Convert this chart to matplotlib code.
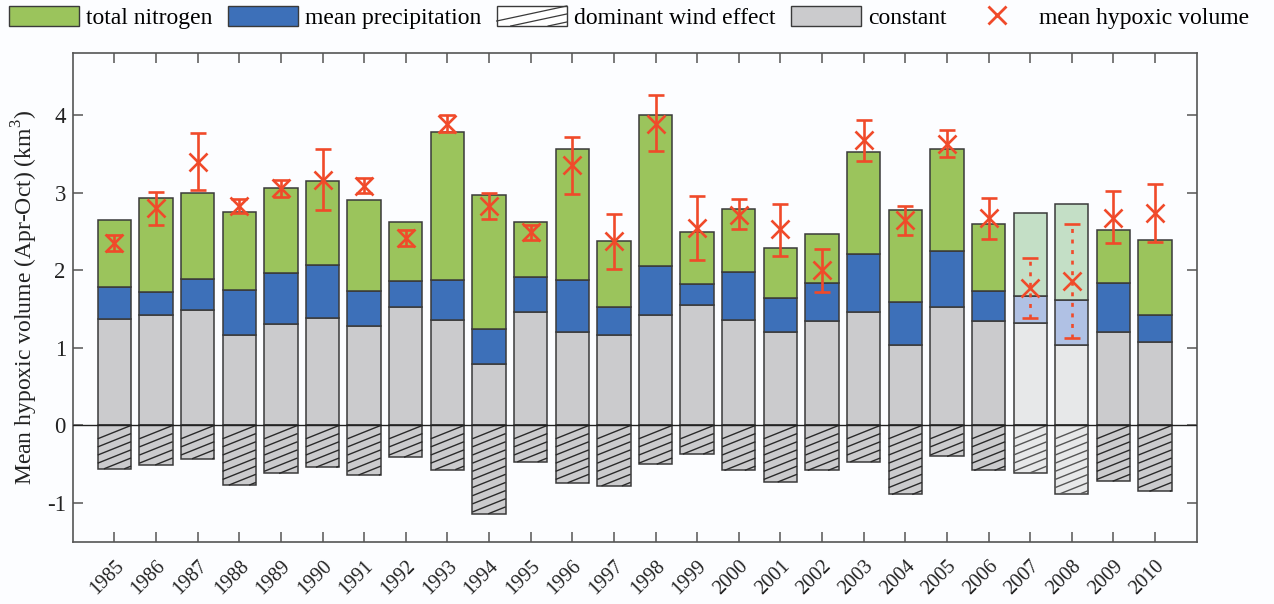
import matplotlib
matplotlib.use("Agg")
import matplotlib.pyplot as plt
from matplotlib.patches import Patch, Rectangle
from matplotlib.lines import Line2D
from matplotlib.collections import LineCollection
from matplotlib.legend_handler import HandlerBase

years = list(range(1985, 2011))
# stacked contributions (km^3)
constant = [1.37, 1.43, 1.49, 1.16, 1.31, 1.39, 1.28, 1.53, 1.36, 0.79, 1.46, 1.20, 1.16,
            1.43, 1.55, 1.36, 1.21, 1.35, 1.46, 1.04, 1.53, 1.35, 1.32, 1.04, 1.20, 1.07]
precip = [0.41, 0.29, 0.40, 0.59, 0.66, 0.68, 0.45, 0.33, 0.51, 0.45, 0.45, 0.67, 0.37,
          0.63, 0.27, 0.62, 0.43, 0.49, 0.75, 0.55, 0.72, 0.39, 0.35, 0.58, 0.64, 0.35]
nitrogen = [0.87, 1.21, 1.11, 1.00, 1.09, 1.08, 1.18, 0.77, 1.91, 1.73, 0.71, 1.69, 0.85,
            1.94, 0.67, 0.81, 0.65, 0.63, 1.32, 1.19, 1.31, 0.86, 1.07, 1.23, 0.68, 0.97]
wind = [-0.56, -0.51, -0.43, -0.77, -0.62, -0.54, -0.64, -0.41, -0.57, -1.14, -0.47, -0.74, -0.78,
        -0.50, -0.37, -0.58, -0.73, -0.58, -0.47, -0.89, -0.40, -0.58, -0.61, -0.88, -0.72, -0.85]
# observed mean hypoxic volume with range
hyp_mean = [2.35, 2.80, 3.40, 2.83, 3.06, 3.17, 3.09, 2.42, 3.89, 2.83, 2.49, 3.36, 2.38,
            3.89, 2.55, 2.72, 2.53, 2.00, 3.68, 2.65, 3.63, 2.67, 1.77, 1.86, 2.68, 2.74]
hyp_low = [2.25, 2.59, 3.04, 2.74, 2.95, 2.78, 3.00, 2.32, 3.79, 2.66, 2.39, 2.99, 2.02,
           3.54, 2.13, 2.53, 2.18, 1.72, 3.41, 2.45, 3.46, 2.40, 1.38, 1.13, 2.35, 2.36]
hyp_high = [2.45, 3.01, 3.77, 2.92, 3.17, 3.56, 3.19, 2.52, 4.00, 3.00, 2.58, 3.72, 2.73,
            4.26, 2.96, 2.92, 2.86, 2.28, 3.94, 2.83, 3.81, 2.93, 2.16, 2.60, 3.02, 3.11]
pale_years = [2007, 2008]

GREEN, BLUE, GRAY = "#9bc45c", "#3d70b9", "#cbcbcd"
GREEN_P, BLUE_P, GRAY_P = "#c4dfc6", "#b0c1e4", "#e7e8e9"
RED = "#f04a2a"
EDGE = "#3a3a3a"

plt.rcParams["font.family"] = ["Liberation Serif", "DejaVu Serif"]
plt.rcParams["mathtext.fontset"] = "custom"
plt.rcParams["mathtext.rm"] = "Liberation Serif"

W = 0.8
K = 0.215   # slope of the wind hatch lines (data units)
STEP = 0.105


def hatch_segments(xl, xr, ybot, ytop, k, step):
    segs = []
    c = ytop
    while c > ybot - k * (xr - xl):
        xa = max(xl, xr + (ybot - c) / k)
        xb = min(xr, xr + (ytop - c) / k)
        if xb > xa:
            segs.append([(xa, c + k * (xa - xr)), (xb, c + k * (xb - xr))])
        c -= step
    return segs


class WindHandle:
    pass


class HandlerWind(HandlerBase):
    def create_artists(self, legend, orig_handle, xdescent, ydescent, width, height, fontsize, trans):
        x0, y0 = -xdescent, -ydescent
        rect = Rectangle((x0, y0), width, height, facecolor="white", edgecolor=EDGE, lw=1.0, transform=trans)
        k = 0.75 * height / width
        arts = [rect]
        for s in hatch_segments(x0, x0 + width, y0, y0 + height, k, 0.4 * height):
            arts.append(Line2D([s[0][0], s[1][0]], [s[0][1], s[1][1]], color=EDGE, lw=0.9, transform=trans))
        return arts


fig = plt.figure(figsize=(12.74, 6.04), dpi=100, facecolor="#fcfdff")
ax = fig.add_axes([0.0571, 0.1031, 0.8822, 0.8087])
ax.set_facecolor("#fcfdff")

pale = [y in pale_years for y in years]
c_const = [GRAY_P if p else GRAY for p in pale]
c_prec = [BLUE_P if p else BLUE for p in pale]
c_nit = [GREEN_P if p else GREEN for p in pale]
bot_prec = constant
bot_nit = [a + b for a, b in zip(constant, precip)]

ax.bar(years, constant, W, color=c_const, edgecolor=EDGE, lw=1.1, zorder=2)
ax.bar(years, precip, W, bottom=bot_prec, color=c_prec, edgecolor=EDGE, lw=1.1, zorder=2)
ax.bar(years, nitrogen, W, bottom=bot_nit, color=c_nit, edgecolor=EDGE, lw=1.1, zorder=2)
ax.bar(years, wind, W, color=c_const, edgecolor=EDGE, lw=1.1, zorder=2)

segs, seg_cols = [], []
for y, w, p in zip(years, wind, pale):
    s = hatch_segments(y - W / 2, y + W / 2, w, 0, K, STEP)
    segs += s
    seg_cols += ["#555555" if p else "#2a2a2a"] * len(s)
ax.add_collection(LineCollection(segs, colors=seg_cols, lw=1.0, zorder=3))

ax.axhline(0, color="#222222", lw=1.0, zorder=4)

for y, m, lo, hi, p in zip(years, hyp_mean, hyp_low, hyp_high, pale):
    eb = ax.errorbar(y, m, yerr=[[m - lo], [hi - m]], fmt="x", ms=12.5, mew=1.9, color=RED,
                     ecolor=RED, elinewidth=1.9, capsize=6, capthick=1.9, zorder=5)
    if p:
        eb[2][0].set_linestyle((0, (1.5, 2.5)))

ax.set_xlim(1984, 2011)
ax.set_ylim(-1.5, 4.8)
ax.set_xticks(years)
ax.set_xticklabels([str(y) for y in years], rotation=45, ha="right", rotation_mode="anchor",
                   fontsize=14.5)
ax.set_yticks([-1, 0, 1, 2, 3, 4])
ax.set_yticklabels(["-1", "0", "1", "2", "3", "4"], fontsize=16.5)
ax.tick_params(direction="in", length=7, width=1.1, color="#555555", top=True, right=True,
               labelcolor="#222222")
ax.tick_params(axis="x", pad=11)
ax.tick_params(axis="y", pad=5)
for sp in ax.spines.values():
    sp.set_color("#555555")
    sp.set_linewidth(1.2)
ax.set_ylabel("Mean hypoxic volume (Apr-Oct) (km$^3$)", fontsize=17, color="#222222", labelpad=5)

handles = [Patch(facecolor=GREEN, edgecolor=EDGE, lw=1.0),
           Patch(facecolor=BLUE, edgecolor=EDGE, lw=1.0),
           WindHandle(),
           Patch(facecolor=GRAY, edgecolor=EDGE, lw=1.0),
           Line2D([], [], marker="x", ls="none", color=RED, ms=13, mew=2.0)]
labels = ["total nitrogen", "mean precipitation", "dominant wind effect", "constant",
          "mean hypoxic volume"]
fig.legend(handles, labels, loc="upper left", bbox_to_anchor=(0.0, 1.005), ncol=5, frameon=False,
           fontsize=17, handlelength=2.97, handleheight=0.93, handletextpad=0.3,
           columnspacing=0.65, borderpad=0.2, borderaxespad=0.18,
           handler_map={WindHandle: HandlerWind()})

fig.savefig("out.png", dpi=100, facecolor=fig.get_facecolor())
